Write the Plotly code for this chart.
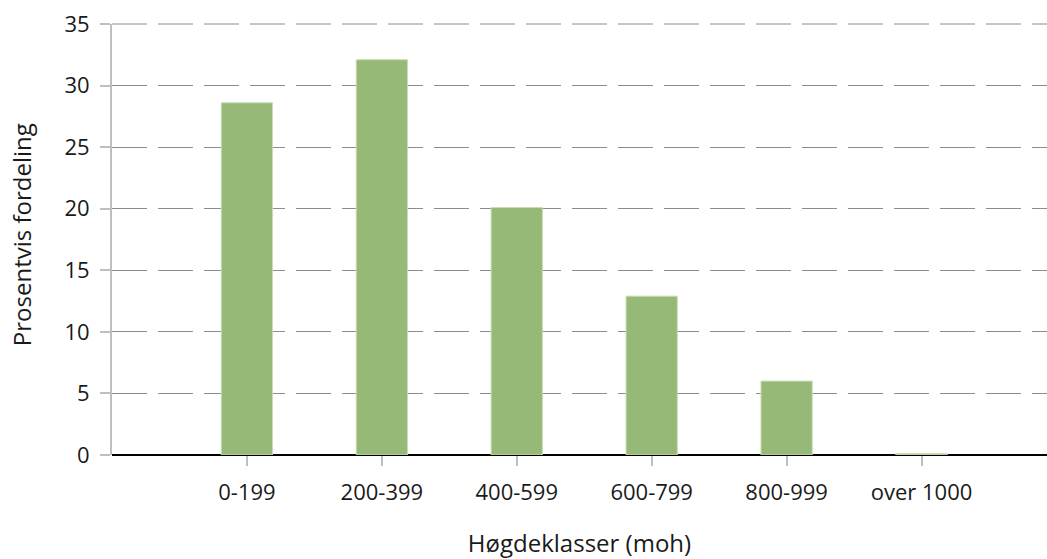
import plotly.graph_objects as go

# Høgdeklasser og prosentvis fordeling
klasser = ["0-199", "200-399", "400-599", "600-799", "800-999", "over 1000"]
prosent = [28.6, 32.1, 20.1, 12.9, 6.0, 0.1]
y_ticks = [0, 5, 10, 15, 20, 25, 30, 35]

bar_color = "#97B977"
grid_color = "#8C8C8C"
axis_gray = "#BFBFBF"
font_family = "Open Sans, Noto Sans, sans-serif"

fig = go.Figure(
    go.Bar(
        x=list(range(len(klasser))),
        y=prosent,
        width=0.38,
        marker=dict(color=bar_color, line=dict(color="#C9DCB5", width=1)),
        hoverinfo="skip",
    )
)

fig.update_layout(
    width=1047,
    height=559,
    margin=dict(l=112, r=0, t=24, b=104),
    plot_bgcolor="white",
    paper_bgcolor="white",
    font=dict(family=font_family, size=20, color="#1a1a1a"),
    showlegend=False,
)

fig.update_xaxes(
    range=[-1, 5.93],
    tickmode="array",
    tickvals=list(range(len(klasser))),
    ticktext=klasser,
    ticks="outside",
    ticklen=10,
    tickwidth=2,
    tickcolor=axis_gray,
    ticklabelstandoff=8,
    showgrid=False,
    showline=False,
    zeroline=False,
    title=dict(text="Høgdeklasser (moh)", standoff=30),
    tickfont=dict(family=font_family, size=22),
)

fig.update_yaxes(
    range=[0, 35],
    tickmode="array",
    tickvals=y_ticks,
    ticks="outside",
    ticklen=10,
    tickwidth=2,
    tickcolor=axis_gray,
    ticklabelstandoff=6,
    showline=True,
    linecolor=axis_gray,
    linewidth=2,
    showgrid=True,
    gridcolor=grid_color,
    gridwidth=1,
    griddash="35px,11px",
    zeroline=True,
    zerolinecolor="black",
    zerolinewidth=2,
    tickfont=dict(family=font_family, size=22),
)

# dashed line along the top of the value range (35)
fig.add_shape(
    type="line",
    xref="paper",
    yref="paper",
    x0=0,
    x1=1,
    y0=1,
    y1=1,
    layer="below",
    line=dict(color=grid_color, width=1, dash="35px,11px"),
)

# y-axis title placed as a rotated annotation
fig.add_annotation(
    text="Prosentvis fordeling",
    textangle=-90,
    xref="paper",
    yref="paper",
    x=0,
    xshift=-91,
    y=0.51,
    xanchor="center",
    yanchor="middle",
    showarrow=False,
    font=dict(family=font_family, size=24),
)

fig.write_html("out.html")
